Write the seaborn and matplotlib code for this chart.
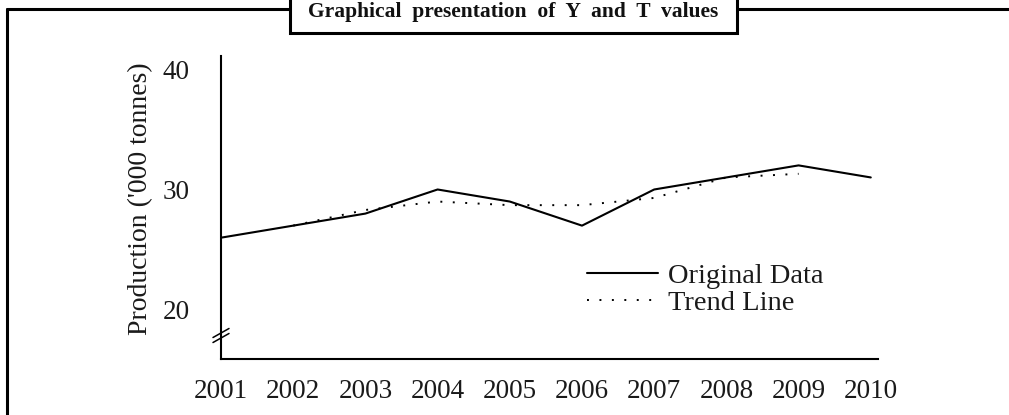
import matplotlib
matplotlib.use("Agg")
import matplotlib.pyplot as plt
from matplotlib.lines import Line2D
from matplotlib.patches import Rectangle
import pandas as pd
import seaborn as sns

# Production series (thousand tonnes) and its moving-average trend
years = [2001, 2002, 2003, 2004, 2005, 2006, 2007, 2008, 2009, 2010]
original = [26, 27, 28, 30, 29, 27, 30, 31, 32, 31]
trend_years = [2002, 2003, 2004, 2005, 2006, 2007, 2008, 2009]
trend = [27.0, 28.3, 29.0, 28.7, 28.7, 29.3, 31.0, 31.3]
y_ticks = [20, 30, 40]

sns.set_theme(style="white")
plt.rcParams["font.family"] = ["Liberation Serif", "DejaVu Serif"]

W, H = 1009, 415
fig = plt.figure(figsize=(W / 100, H / 100), dpi=100)
ax = fig.add_axes([221 / W, 1 - 359 / H, (878 - 221) / W, (359 - 56) / H])

df_orig = pd.DataFrame({"Year": years, "Production": original})
df_trend = pd.DataFrame({"Year": trend_years, "Production": trend})

sns.lineplot(data=df_orig, x="Year", y="Production", ax=ax, color="black",
             linewidth=1.5, label="Original Data")
sns.lineplot(data=df_trend, x="Year", y="Production", ax=ax, color="black",
             linewidth=1.4, linestyle=(0, (1.0, 5.4)), label="Trend Line")

ax.set_xlim(2001, 2010.1)
ax.set_ylim(15.93, 41.08)
ax.set_xticks(years)
ax.set_xticklabels([str(y) for y in years])
ax.set_yticks(y_ticks)

for side in ("top", "right"):
    ax.spines[side].set_visible(False)
for side in ("left", "bottom"):
    ax.spines[side].set_linewidth(1.5)
    ax.spines[side].set_color("black")

ax.tick_params(axis="both", direction="inout", length=7.5, width=1.0,
               color="black", labelcolor="#1a1a1a", labelsize=19.5)
ax.tick_params(axis="y", pad=19)
ax.tick_params(axis="x", pad=10.5)

ax.set_xlabel("")
ax.set_ylabel("Production ('000 tonnes)", fontsize=20, color="#1a1a1a")
ax.yaxis.set_label_coords(-0.104, 0.528)

# axis break marks on the y axis
for yc in (0.0858, 0.0693):
    ax.plot([-0.0122, 0.0122], [yc - 0.0149, yc + 0.0149], transform=ax.transAxes,
            color="black", linewidth=1.1, clip_on=False)

leg = ax.legend(loc="upper left", bbox_to_anchor=(0.557, 0.317), frameon=False,
                fontsize=20.5, handlelength=2.5, handletextpad=0.35,
                labelspacing=0.05, borderpad=0, borderaxespad=0)
for t in leg.get_texts():
    t.set_color("#1a1a1a")

# outer frame (top and left edges)
fig.add_artist(Line2D([7 / W, 1.0], [1 - 9 / H, 1 - 9 / H], transform=fig.transFigure,
                      color="black", linewidth=2.2, zorder=1))
fig.add_artist(Line2D([7 / W, 7 / W], [0.0, 1 - 9 / H], transform=fig.transFigure,
                      color="black", linewidth=2.2, zorder=1))

# boxed caption at the top
fig.add_artist(Rectangle((290 / W, 1 - 33 / H), (737 - 290) / W, 40 / H,
                         transform=fig.transFigure, facecolor="white",
                         edgecolor="black", linewidth=2.2, zorder=2))
fig.text(513.5 / W, 1 - 16.5 / H, "Graphical  presentation  of  Y  and  T  values",
         ha="center", va="baseline", fontsize=15.5, fontweight="bold",
         color="#111111", zorder=3)

fig.savefig("out.png", dpi=100)
